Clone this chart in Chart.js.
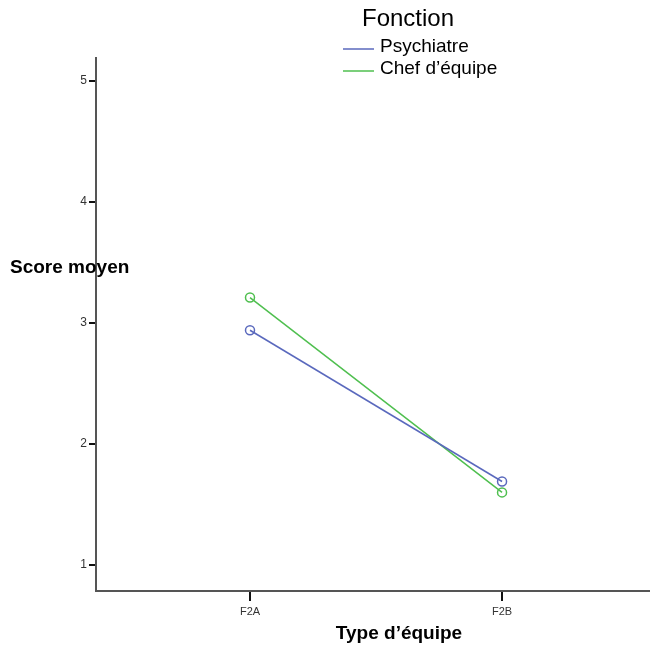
<!DOCTYPE html>
<html>
<head>
<meta charset="utf-8">
<script src="https://cdn.jsdelivr.net/npm/chart.js@4/dist/chart.umd.min.js"></script>
<style>
  html, body { margin: 0; padding: 0; background: #fff; }
  #wrap { width: 650px; height: 647px; }
</style>
</head>
<body>
<div id="wrap"><canvas id="chart" width="650" height="647"></canvas></div>
<script>
// Data
const categories = ['F2A', 'F2B'];
const seriesNames = ['Psychiatre', 'Chef d\u2019\u00e9quipe'];
const psychiatre = [2.94, 1.69];
const chefEquipe = [3.21, 1.60];
const yTicks = [1, 2, 3, 4, 5];
const colors = ['#5a69bd', '#4fbf4f'];

const FONT = '"Liberation Sans", Arial, sans-serif';

function toPoints(values) {
    return values.map((v, i) => ({ x: i, y: v }));
}

// draws legend + axis titles the SPSS way
const extras = {
    id: 'extras',
    afterDraw(chart) {
        const ctx = chart.ctx;
        ctx.save();
        ctx.fillStyle = '#000';
        ctx.textBaseline = 'middle';
        ctx.font = '24px ' + FONT;
        ctx.fillText('Fonction', 362, 19);
        ctx.font = '19px ' + FONT;
        chart.data.datasets.forEach((ds, i) => {
            const y = 49 + i * 22;
            ctx.strokeStyle = ds.borderColor;
            ctx.lineWidth = 1.5;
            ctx.beginPath();
            ctx.moveTo(343, y);
            ctx.lineTo(374, y);
            ctx.stroke();
            ctx.fillText(ds.label, 380, y - 2);
        });
        ctx.font = 'bold 19px ' + FONT;
        ctx.fillText('Score moyen', 10, 268);
        ctx.textAlign = 'center';
        ctx.fillText('Type d\u2019\u00e9quipe', 399, 634);
        ctx.restore();
    }
};

new Chart(document.getElementById('chart'), {
    type: 'line',
    data: {
        datasets: [
            { label: seriesNames[0], data: toPoints(psychiatre), borderColor: colors[0] },
            { label: seriesNames[1], data: toPoints(chefEquipe), borderColor: colors[1] }
        ].map(ds => Object.assign(ds, {
            borderWidth: 1.5,
            pointRadius: 4.5,
            pointBorderWidth: 1.5,
            pointBackgroundColor: 'rgba(255,255,255,0)',
            pointBorderColor: ds.borderColor,
            fill: false,
            tension: 0
        }))
    },
    options: {
        responsive: false,
        animation: false,
        layout: { autoPadding: false, padding: { top: 58, right: 0, left: 0, bottom: 0 } },
        plugins: { legend: { display: false }, tooltip: { enabled: false } },
        scales: {
            x: {
                type: 'linear',
                min: -0.611,
                max: 1.587,
                afterBuildTicks: s => { s.ticks = categories.map((c, i) => ({ value: i })); },
                afterFit: s => { s.height = 56; },
                ticks: {
                    callback: v => categories[v],
                    color: '#333',
                    font: { family: FONT, size: 11 },
                    padding: 4
                },
                grid: { drawOnChartArea: false, color: '#111', tickLength: 10, lineWidth: 2 },
                border: { color: '#555', width: 2 }
            },
            y: {
                min: 0.785,
                max: 5.19,
                afterBuildTicks: s => { s.ticks = yTicks.map(v => ({ value: v })); },
                afterFit: s => { s.width = 96; },
                ticks: {
                    color: '#333',
                    font: { family: FONT, size: 12 },
                    padding: 2
                },
                grid: { drawOnChartArea: false, color: '#111', tickLength: 7, lineWidth: 2 },
                border: { color: '#555', width: 2 }
            }
        }
    },
    plugins: [extras]
});
</script>
</body>
</html>
